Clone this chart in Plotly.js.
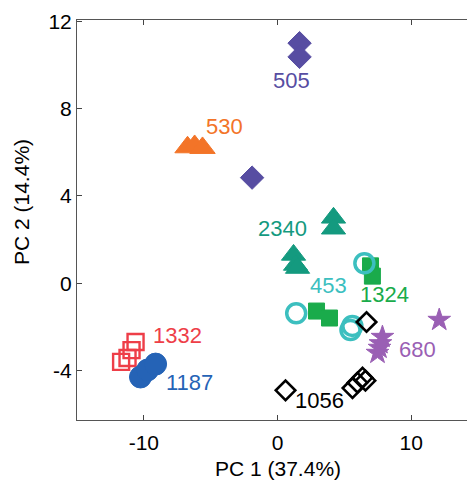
<!DOCTYPE html>
<html>
<head>
<meta charset="utf-8">
<script src="https://cdn.plot.ly/plotly-3.0.1.min.js"></script>
<style>
  html, body { margin: 0; padding: 0; overflow: hidden; background: #fff; }
  #chart { width: 490px; height: 480px; }
</style>
</head>
<body>
<div id="chart"></div>
<script>
// PCA scores, one group per sample
const s505x  = [1.65, 1.65, -1.9];
const s505y  = [11.0, 10.37, 4.84];
const s530x  = [-6.73, -6.2, -5.61];
const s530y  = [6.23, 6.29, 6.2];
const s2340x = [4.19, 4.19, 1.2, 1.35, 1.5];
const s2340y = [3.0, 2.5, 1.3, 0.84, 0.7];
const s453x  = [6.5, 1.4, 5.46, 5.6];
const s453y  = [0.92, -1.37, -2.14, -1.95];
const s1324x = [6.96, 7.1, 2.92, 3.89];
const s1324y = [0.8, 0.33, -1.27, -1.59];
const s680x  = [12.1, 7.85, 7.63, 7.48, 7.7];
const s680y  = [-1.68, -2.46, -2.96, -3.19, -2.75];
const s1056x = [0.6, 6.66, 5.61, 5.98, 6.36, 6.58];
const s1056y = [-4.9, -1.77, -4.8, -4.55, -4.32, -4.46];
const s1332x = [-10.62, -10.92, -11.22, -11.7];
const s1332y = [-2.69, -3.06, -3.42, -3.6];
const s1187x = [-10.25, -9.72, -9.12];
const s1187y = [-4.29, -3.97, -3.7];

// group names and where their labels sit
const labelText = ['505', '530', '2340', '453', '1324', '680', '1056', '1332', '1187'];
const labelX    = [1.02, -3.96, 0.37, 3.81, 8.0, 10.47, 3.14, -7.48, -6.58];
const labelY    = [9.31, 7.2, 2.49, -0.08, -0.53, -3.05, -5.35, -2.37, -4.52];
const colors    = ['#574da2', '#f37428', '#149a7f', '#3cbfbf', '#1aab4b', '#9a5fb4', '#000000', '#ee3e48', '#2563b6'];

// axis ticks
const xTicks = [-10, 0, 10];
const xTickText = ['-10', '0', '10'];
const yTicks = [-4, 0, 4, 8, 12];
const yTickText = ['-4', '0', '4', '8', '12'];

function grp(x, y, sym, size, color, open, lw) {
  return {
    type: 'scatter', mode: 'markers', x: x, y: y, hoverinfo: 'skip',
    marker: {
      symbol: sym, size: size,
      color: open ? 'rgba(0,0,0,0)' : color,
      line: { color: color, width: lw }
    }
  };
}

const data = [
  grp(s505x,  s505y,  'diamond',     18, colors[0], false, 1),
  grp(s530x,  s530y,  'triangle-up', 22, colors[1], false, 1),
  grp(s2340x, s2340y, 'triangle-up', 21, colors[2], false, 1),
  grp(s1324x, s1324y, 'square',      16, colors[4], false, 1),
  grp(s453x,  s453y,  'circle',      19, colors[3], true, 3.5),
  grp(s680x,  s680y,  'star',        17, colors[5], false, 1),
  grp(s1056x, s1056y, 'diamond',     15, colors[6], true, 2.6),
  grp(s1332x, s1332y, 'square',      16, colors[7], true, 2.4),
  grp(s1187x, s1187y, 'circle',      22, colors[8], false, 1)
];

const annotations = labelText.map((t, i) => ({
  x: labelX[i], y: labelY[i], xref: 'x', yref: 'y', text: t, showarrow: false,
  font: { family: 'Liberation Sans, Arial, sans-serif', size: 22, color: colors[i] }
}));

annotations.push({
  xref: 'paper', yref: 'paper', x: 0.5, y: 0, yshift: -48, yanchor: 'middle',
  text: 'PC 1 (37.4%)', showarrow: false,
  font: { family: 'Liberation Sans, Arial, sans-serif', size: 21, color: '#000' }
});
annotations.push({
  xref: 'paper', yref: 'paper', x: 0, xshift: -55, y: 0.545, xanchor: 'center', yanchor: 'middle',
  text: 'PC 2 (14.4%)', textangle: -90, showarrow: false,
  font: { family: 'Liberation Sans, Arial, sans-serif', size: 21, color: '#000' }
});

const axisCommon = {
  showgrid: false, zeroline: false, showline: true, linecolor: '#555', linewidth: 1,
  mirror: 'ticks', ticks: 'inside', ticklen: 5, tickcolor: '#444', tickwidth: 1,
  tickmode: 'array',
  tickfont: { family: 'Liberation Sans, Arial, sans-serif', size: 21, color: '#000' }
};

const layout = {
  width: 490, height: 480,
  margin: { l: 77, r: 12, t: 20, b: 60 },
  paper_bgcolor: '#fff', plot_bgcolor: '#fff',
  showlegend: false,
  xaxis: Object.assign({}, axisCommon, { range: [-15, 15], tickvals: xTicks, ticktext: xTickText, ticklabelstandoff: 4 }),
  yaxis: Object.assign({}, axisCommon, { range: [-6.26, 12.06], tickvals: yTicks, ticktext: yTickText }),
  annotations: annotations
};

Plotly.newPlot('chart', data, layout, { staticPlot: true, displayModeBar: false });
</script>
</body>
</html>
